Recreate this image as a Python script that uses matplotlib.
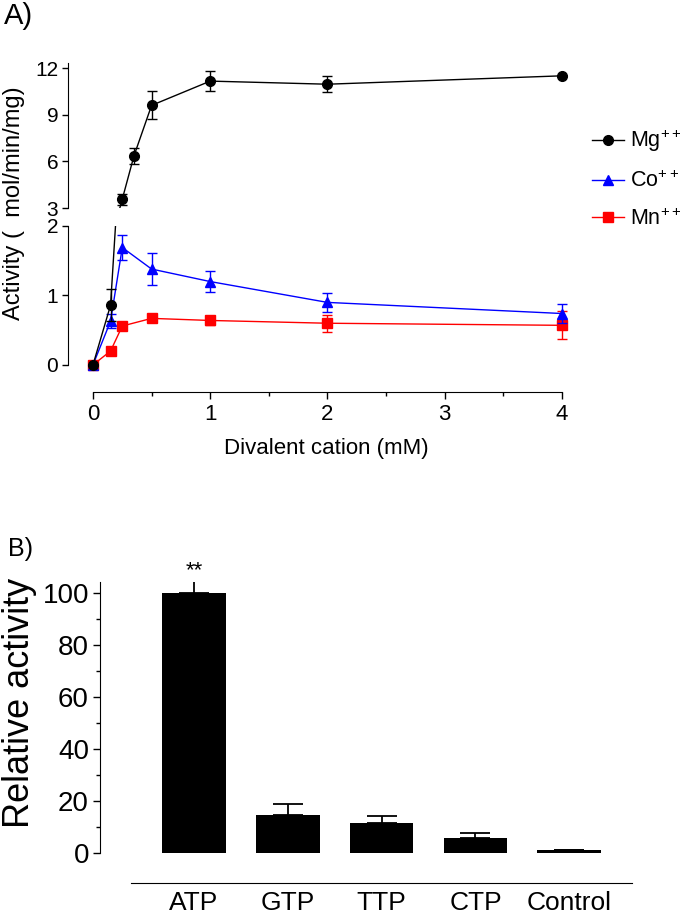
# ======================================
# DIVALENT CATION DEPENDENCE + NUCLEOTIDE SPECIFICITY
# ======================================

import numpy as np
import matplotlib

matplotlib.use("Agg")

import matplotlib.pyplot as plt

plt.rcParams['font.family'] = ['Liberation Sans', 'DejaVu Sans']
plt.rcParams['mathtext.fontset'] = 'custom'
plt.rcParams['mathtext.rm'] = 'Liberation Sans'


# ======================================
# DATA - PANEL A
# ======================================

mg_x = [0, 0.15, 0.25, 0.35, 0.5, 1, 2, 4]
mg_y = [0, 0.86, 3.57, 6.36, 9.6, 11.16, 10.96, 11.5]
mg_err = [0, 0.23, 0.35, 0.5, 0.9, 0.65, 0.5, 0]

co_x = [0, 0.15, 0.25, 0.5, 1, 2, 4]
co_y = [0, 0.63, 1.69, 1.38, 1.2, 0.9, 0.74]
co_err = [0, 0.1, 0.18, 0.23, 0.15, 0.14, 0.14]

mn_x = [0, 0.15, 0.25, 0.5, 1, 2, 4]
mn_y = [0, 0.2, 0.56, 0.67, 0.64, 0.6, 0.57]
mn_err = [0, 0, 0, 0.02, 0.07, 0.12, 0.2]

# ======================================
# DATA - PANEL B
# ======================================

nucleotides = ['ATP', 'GTP', 'TTP', 'CTP', 'Control']
rel_activity = [100, 14.6, 11.5, 5.8, 1.0]
rel_err = [5, 4.2, 2.8, 1.9, 0]


W, H = 686, 919
fig = plt.figure(figsize=(W / 100, H / 100), dpi=100)


def box(left, top, right, bottom):
    return [left / W, 1 - bottom / H, (right - left) / W, (bottom - top) / H]


# ======================================
# PANEL A - broken y axis
# ======================================

ax_top = fig.add_axes(box(68, 62.6, 585.4, 208))
ax_bot = fig.add_axes(box(68, 226, 585.4, 392))

for ax in (ax_top, ax_bot):
    ax.set_xlim(-0.213, 4.2)
    ax.spines['top'].set_visible(False)
    ax.spines['right'].set_visible(False)
    ax.tick_params(axis='y', direction='out', length=4, width=1, labelsize=15, pad=3)

ax_top.set_ylim(3, 12.35)
ax_top.set_yticks([3, 6, 9, 12])
ax_top.spines['bottom'].set_visible(False)
ax_top.tick_params(axis='x', bottom=False, labelbottom=False)

ax_bot.set_ylim(-0.39, 2)
ax_bot.set_yticks([0, 1, 2])
ax_bot.spines['left'].set_bounds(0, 2)
ax_bot.spines['bottom'].set_bounds(0, 4)
ax_bot.set_xticks([0, 1, 2, 3, 4])
ax_bot.set_xticks(np.arange(0.5, 4, 1), minor=True)
ax_bot.tick_params(axis='x', which='major', length=5, width=1, labelsize=16, pad=4)
ax_bot.tick_params(axis='x', which='minor', length=3, width=1)

lw = 1.0
cap = 3.5

handles = []
for ax in (ax_top, ax_bot):
    ax.errorbar(mn_x, mn_y, yerr=mn_err, fmt='none', ecolor='red',
                elinewidth=lw, capsize=cap, capthick=lw)
    l_mn, = ax.plot(mn_x, mn_y, '-s', color='red', lw=lw, ms=6.5)
    ax.errorbar(co_x, co_y, yerr=co_err, fmt='none', ecolor='blue',
                elinewidth=lw, capsize=cap, capthick=lw)
    l_co, = ax.plot(co_x, co_y, '-^', color='blue', lw=lw, ms=7.5)
    ax.errorbar(mg_x, mg_y, yerr=mg_err, fmt='none', ecolor='black',
                elinewidth=lw, capsize=cap, capthick=lw)
    l_mg, = ax.plot(mg_x, mg_y, '-o', color='black', lw=lw, ms=7)
    handles = [l_mg, l_co, l_mn]

ax_bot.set_xlabel('Divalent cation (mM)', fontsize=16, labelpad=9)

fig.text(14 / W, 1 - 203 / H, 'Activity (  mol/min/mg)', rotation=90,
         ha='center', va='center', fontsize=17)

fig.legend(handles, ['Mg$^{++}$', 'Co$^{++}$', 'Mn$^{++}$'],
           loc='upper left', bbox_to_anchor=(592 / W, 1 - 128 / H),
           frameon=False, fontsize=15.5, handlelength=1.5, handletextpad=0.25,
           labelspacing=0.75, borderpad=0, borderaxespad=0)

fig.text(4 / W, 1 - 16 / H, 'A)', ha='left', va='center', fontsize=21)


# ======================================
# PANEL B - bar chart
# ======================================

ax_b = fig.add_axes(box(100, 582, 635, 883))
xb = np.arange(len(nucleotides))

ax_b.bar(xb, rel_activity, width=0.68, color='black')
ax_b.errorbar(xb, rel_activity, yerr=[np.zeros(len(rel_err)), rel_err],
              fmt='none', ecolor='black', elinewidth=1.3, capsize=11, capthick=1.3)

ax_b.set_xlim(-1.0, 4.7)
ax_b.set_ylim(-11.5, 104.2)
ax_b.set_yticks([0, 20, 40, 60, 80, 100])
ax_b.set_yticks(np.arange(10, 100, 20), minor=True)
ax_b.spines['top'].set_visible(False)
ax_b.spines['right'].set_visible(False)
ax_b.spines['left'].set_bounds(0, 104.2)
ax_b.spines['bottom'].set_bounds(-0.67, 4.67)
ax_b.set_xticks(xb)
ax_b.set_xticklabels(nucleotides)
ax_b.tick_params(axis='x', length=0, labelsize=19, pad=6)
ax_b.tick_params(axis='y', which='major', length=5, width=1, labelsize=20, pad=3)
ax_b.tick_params(axis='y', which='minor', length=3, width=1)

ax_b.text(0, 106.5, '**', ha='center', va='baseline', fontsize=16)

fig.text(20 / W, 1 - 703 / H, 'Relative activity', rotation=90,
         ha='center', va='center', fontsize=26)

fig.text(8 / W, 1 - 549 / H, 'B)', ha='left', va='center', fontsize=18)

plt.savefig("out.png", dpi=100)
